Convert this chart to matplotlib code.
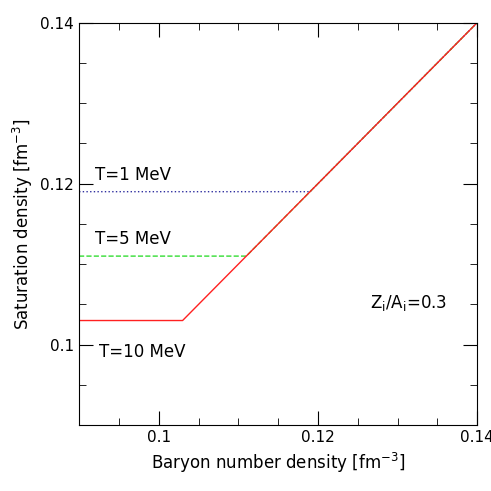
import numpy as np
import matplotlib
matplotlib.use("Agg")
import matplotlib.pyplot as plt
from matplotlib.ticker import MultipleLocator

# ── DATA ────────────────────────────────────────────────────
temperatures = ["T=1 MeV", "T=5 MeV", "T=10 MeV"]
sat_density = [0.119, 0.111, 0.103]
line_colors = ["#3030a0", "#33dd33", "#ff2020"]
line_styles = [":", "--", "-"]
x_range = [0.09, 0.14]

fig = plt.figure(figsize=(4.91, 4.91), dpi=100)
ax = fig.add_axes([0.161, 0.134, 0.811, 0.82])

for name, rho, c, ls in zip(temperatures, sat_density, line_colors, line_styles):
    xs = [x_range[0], rho, x_range[1]]
    ys = [rho, rho, x_range[1]]
    ax.plot(xs, ys, color=c, ls=ls, lw=1)

ax.set_xlim(*x_range)
ax.set_ylim(0.09, 0.14)
fmt = matplotlib.ticker.FuncFormatter(lambda v, p: f"{v:g}")
ax.xaxis.set_major_locator(MultipleLocator(0.02))
ax.xaxis.set_major_formatter(fmt)
ax.yaxis.set_major_locator(MultipleLocator(0.02))
ax.yaxis.set_major_formatter(fmt)
ax.xaxis.set_minor_locator(MultipleLocator(0.005))
ax.yaxis.set_minor_locator(MultipleLocator(0.005))
ax.tick_params(which="both", direction="in", top=True, right=True, labelsize=11)
ax.tick_params(which="major", length=10)
ax.tick_params(which="minor", length=5)

ax.text(0.092, 0.1205, "T=1 MeV", fontsize=12)
ax.text(0.092, 0.1125, "T=5 MeV", fontsize=12)
ax.text(0.0925, 0.0985, "T=10 MeV", fontsize=12)
ax.text(0.1265, 0.1045, r"Z$_{\rm i}$/A$_{\rm i}$=0.3", fontsize=12)

ax.set_xlabel(r"Baryon number density [fm$^{-3}$]", fontsize=12)
ax.set_ylabel(r"Saturation density [fm$^{-3}$]", fontsize=12)

fig.savefig("out.png", dpi=100)
